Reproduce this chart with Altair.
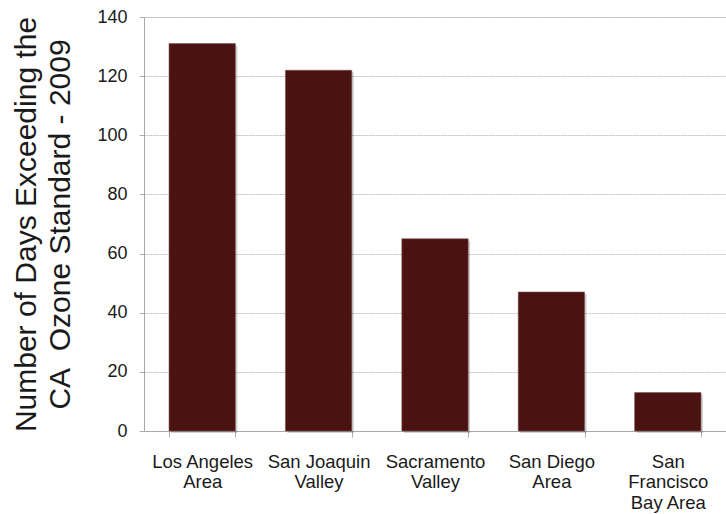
import altair as alt
import pandas as pd

regions = ["Los Angeles\nArea", "San Joaquin\nValley", "Sacramento\nValley",
           "San Diego\nArea", "San\nFrancisco\nBay Area"]
days = [131, 122, 65, 47, 13]
y_ticks = [0, 20, 40, 60, 80, 100, 120, 140]
y_title = ["Number of Days Exceeding the", "CA\u00a0 Ozone Standard - 2009"]

df = pd.DataFrame({"region": regions, "days": days})

FONT = "Liberation Sans"

x_enc = alt.X("region:N", sort=regions,
              scale=alt.Scale(paddingInner=0.43, paddingOuter=0.215),
              axis=alt.Axis(title=None, domain=True, domainColor="#a8a8a8", labelAngle=0,
                            labelExpr="isValid(datum.value) ? split(datum.value, '\\n') : ''",
                            labelFont=FONT, labelFontSize=18.5, labelColor="#1a1a1a",
                            labelLineHeight=20.5, labelPadding=15, labelBaseline="top",
                            ticks=True, tickBand="extent", tickSize=6,
                            tickColor="#b0b0b0", grid=False))
y_enc = alt.Y("days:Q", scale=alt.Scale(domain=[0, 140], nice=False),
              axis=alt.Axis(values=y_ticks, title=y_title,
                            titleFont=FONT, titleFontSize=30, titleFontWeight="normal",
                            titleColor="#1a1a1a", titleLineHeight=34, titlePadding=21,
                            labelFont=FONT, labelFontSize=18, labelColor="#1a1a1a",
                            labelPadding=12, tickSize=5, tickColor="#b0b0b0",
                            domainColor="#a8a8a8", grid=True, gridColor="#bdbdbd",
                            gridDash=[2, 1], gridWidth=1))

shadow = alt.Chart(df).mark_bar(color="#000000", opacity=0.18, xOffset=2, yOffset=2).encode(
    x=x_enc, y=y_enc)
bars = alt.Chart(df).mark_bar(color="#4a1210", stroke="#7a5856", strokeWidth=0.6).encode(
    x=x_enc, y=y_enc)

chart = alt.layer(shadow, bars).properties(
    width=582, height=414,
    autosize=alt.AutoSizeParams(type="none"),
    padding={"left": 144, "top": 17, "right": 0, "bottom": 83},
).configure_view(stroke=None).configure(background="white")

chart.save("out.html", embed_options={"renderer": "svg", "actions": False})
